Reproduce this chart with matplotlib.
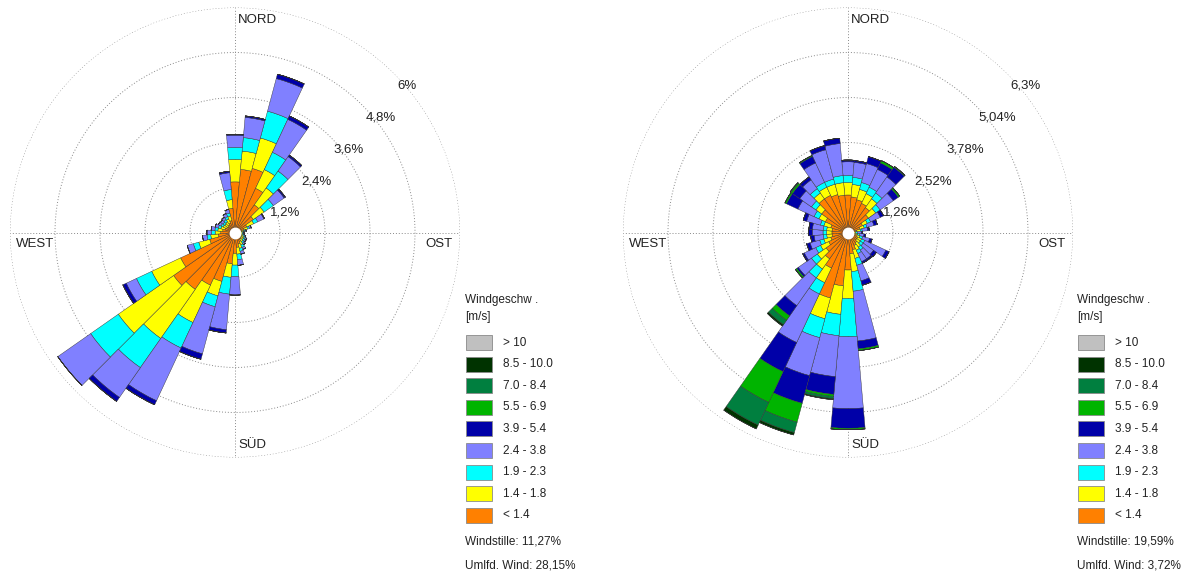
import numpy as np
import matplotlib.pyplot as plt
from matplotlib.patches import Rectangle

plt.rcParams['font.family'] = ['Liberation Sans', 'DejaVu Sans']

W, H = 1195, 574

# wind direction sectors (degrees, clockwise from north)
directions = np.arange(0, 360, 10)

classes = ['< 1.4', '1.4 - 1.8', '1.9 - 2.3', '2.4 - 3.8', '3.9 - 5.4',
           '5.5 - 6.9', '7.0 - 8.4', '8.5 - 10.0', '> 10']
class_colors = ['#ff8000', '#ffff00', '#00ffff', '#8080ff', '#0000a8',
                '#00b400', '#007f3f', '#003300', '#c0c0c0']

# ---- station 1: frequency per sector and speed class [%] ----
s1_lt14 = [1.35, 1.69, 1.77, 1.30, 0.90, 0.60, 0.35, 0.25, 0.18, 0.15, 0.15, 0.17,
           0.20, 0.20, 0.22, 0.27, 0.32, 0.40, 0.56, 0.84, 1.35, 1.55, 1.85, 2.00,
           1.60, 0.70, 0.45, 0.38, 0.33, 0.28, 0.25, 0.23, 0.25, 0.28, 0.33, 0.65]
s1_14_18 = [0.60, 0.49, 0.84, 0.55, 0.55, 0.35, 0.20, 0.10, 0.06, 0.05, 0.05, 0.06,
            0.07, 0.07, 0.08, 0.10, 0.12, 0.18, 0.31, 0.36, 0.40, 1.10, 1.60, 1.80,
            0.85, 0.30, 0.20, 0.15, 0.13, 0.11, 0.10, 0.10, 0.10, 0.12, 0.13, 0.23]
s1_19_23 = [0.32, 0.36, 0.74, 0.51, 0.55, 0.30, 0.12, 0.05, 0.03, 0.02, 0.03, 0.04,
            0.04, 0.05, 0.05, 0.07, 0.08, 0.15, 0.31, 0.45, 0.30, 0.75, 0.95, 0.90,
            0.45, 0.15, 0.10, 0.10, 0.08, 0.07, 0.06, 0.06, 0.07, 0.07, 0.08, 0.27]
s1_24_38 = [0.32, 0.54, 0.90, 0.97, 0.47, 0.35, 0.18, 0.05, 0.03, 0.02, 0.02, 0.03,
            0.04, 0.04, 0.05, 0.06, 0.08, 0.15, 0.49, 0.95, 1.30, 1.55, 0.97, 1.07,
            0.30, 0.17, 0.12, 0.12, 0.10, 0.09, 0.08, 0.08, 0.08, 0.09, 0.10, 0.45]
s1_39_54 = [0.03, 0.04, 0.12, 0.10, 0.05, 0.04, 0.02, 0.00, 0.00, 0.00, 0.00, 0.00,
            0.00, 0.00, 0.00, 0.00, 0.00, 0.00, 0.00, 0.09, 0.15, 0.12, 0.13, 0.00,
            0.10, 0.00, 0.00, 0.00, 0.00, 0.00, 0.00, 0.00, 0.00, 0.00, 0.00, 0.04]
s1_55_69 = [0.0] * 36
s1_70_84 = [0.0] * 36
s1_85_100 = [0.0] * 36
s1_gt10 = [0.0] * 36

# ---- station 2 ----
s2_lt14 = [1.05, 1.00, 0.95, 0.90, 0.85, 0.70, 0.45, 0.35, 0.25, 0.15, 0.20, 0.25,
           0.30, 0.30, 0.35, 0.40, 0.50, 0.60, 1.05, 1.50, 1.90, 1.10, 0.90, 0.75,
           0.60, 0.50, 0.45, 0.45, 0.45, 0.50, 0.70, 0.90, 1.15, 1.15, 1.10, 1.05]
s2_14_18 = [0.35, 0.35, 0.30, 0.30, 0.30, 0.25, 0.15, 0.12, 0.10, 0.07, 0.08, 0.10,
            0.12, 0.12, 0.15, 0.15, 0.25, 0.50, 0.80, 0.80, 0.60, 0.45, 0.35, 0.30,
            0.25, 0.20, 0.15, 0.15, 0.15, 0.20, 0.20, 0.20, 0.20, 0.25, 0.30, 0.35]
s2_19_23 = [0.20, 0.20, 0.20, 0.20, 0.20, 0.15, 0.10, 0.08, 0.05, 0.05, 0.05, 0.08,
            0.10, 0.10, 0.10, 0.10, 0.20, 0.55, 1.07, 0.60, 0.55, 0.35, 0.30, 0.20,
            0.15, 0.12, 0.10, 0.10, 0.10, 0.10, 0.15, 0.15, 0.15, 0.15, 0.15, 0.20]
s2_24_38 = [0.38, 0.42, 0.55, 0.55, 0.55, 0.45, 0.30, 0.20, 0.15, 0.10, 0.12, 0.20,
            0.65, 0.35, 0.30, 0.25, 0.45, 1.40, 2.01, 1.15, 1.10, 1.50, 0.95, 0.45,
            0.35, 0.28, 0.25, 0.30, 0.30, 0.40, 0.50, 0.40, 0.30, 0.60, 0.85, 0.90]
s2_39_54 = [0.05, 0.05, 0.20, 0.20, 0.33, 0.17, 0.10, 0.10, 0.05, 0.03, 0.05, 0.07,
            0.10, 0.10, 0.05, 0.05, 0.13, 0.22, 0.55, 0.50, 0.80, 0.90, 0.35, 0.05,
            0.05, 0.10, 0.10, 0.10, 0.10, 0.10, 0.35, 0.25, 0.10, 0.20, 0.12, 0.15]
s2_55_69 = [0.00, 0.00, 0.00, 0.07, 0.03, 0.05, 0.00, 0.00, 0.00, 0.00, 0.00, 0.00,
            0.00, 0.00, 0.00, 0.00, 0.00, 0.05, 0.04, 0.06, 0.55, 0.95, 0.15, 0.05,
            0.00, 0.00, 0.00, 0.00, 0.00, 0.00, 0.05, 0.05, 0.00, 0.03, 0.00, 0.00]
s2_70_84 = [0.00, 0.00, 0.00, 0.00, 0.00, 0.00, 0.00, 0.00, 0.00, 0.00, 0.00, 0.00,
            0.00, 0.00, 0.00, 0.00, 0.00, 0.00, 0.00, 0.06, 0.30, 0.70, 0.15, 0.00,
            0.00, 0.00, 0.00, 0.00, 0.00, 0.00, 0.00, 0.03, 0.00, 0.00, 0.00, 0.00]
s2_85_100 = [0.00, 0.00, 0.00, 0.00, 0.00, 0.00, 0.00, 0.00, 0.00, 0.00, 0.00, 0.00,
             0.00, 0.00, 0.00, 0.00, 0.00, 0.00, 0.00, 0.03, 0.07, 0.12, 0.05, 0.00,
             0.00, 0.00, 0.00, 0.00, 0.00, 0.00, 0.00, 0.00, 0.00, 0.00, 0.00, 0.00]
s2_gt10 = [0.0] * 36

s1_rings = [1.2, 2.4, 3.6, 4.8, 6.0]
s1_ring_labels = ['1,2%', '2,4%', '3,6%', '4,8%', '6%']
s2_rings = [1.26, 2.52, 3.78, 5.04, 6.3]
s2_ring_labels = ['1,26%', '2,52%', '3,78%', '5,04%', '6,3%']

s1_calm = 'Windstille: 11,27%'
s1_var = 'Umlfd. Wind: 28,15%'
s2_calm = 'Windstille: 19,59%'
s2_var = 'Umlfd. Wind: 3,72%'


def fx(x):
    return x / W


def fy(y):
    return 1 - y / H


def draw_rose(ax, series, rings, ring_labels):
    theta = np.deg2rad(directions)
    width = np.deg2rad(10)
    bottom = np.zeros(len(directions))
    for vals, col in zip(series, class_colors):
        vals = np.asarray(vals)
        ax.bar(theta, vals, width=width, bottom=bottom, color=col,
               edgecolor='#303030', linewidth=0.3, zorder=2)
        bottom = bottom + vals
    ax.set_theta_zero_location('N')
    ax.set_theta_direction(-1)
    ax.set_ylim(0, rings[-1])
    ax.set_rgrids(rings, labels=[''] * len(rings))
    ax.set_thetagrids([0, 90, 180, 270], labels=[''] * 4)
    ax.grid(True, color='#8a8a8a', linestyle=(0, (1, 2)), linewidth=0.7)
    ax.set_axisbelow(True)
    ax.spines['polar'].set_visible(False)
    ax.plot([0], [0], 'o', ms=7.5, mfc='white', mec='white', zorder=5)
    for r, lab in zip(rings, ring_labels):
        ax.annotate(lab, xy=(np.pi / 4, r), xytext=(2.2, -4.5),
                    textcoords='offset points', ha='left', va='top',
                    fontsize=9.5, color='#222222', zorder=6)
    kw = dict(transform=ax.transAxes, fontsize=9.5, color='#222222')
    ax.text(0.507, 0.986, 'NORD', ha='left', va='top', **kw)
    ax.text(0.507, 0.014, 'SÜD', ha='left', va='bottom', **kw)
    ax.text(0.013, 0.488, 'WEST', ha='left', va='top', **kw)
    ax.text(0.984, 0.488, 'OST', ha='right', va='top', **kw)


def draw_legend(fig, x0, calm, var):
    tk = dict(fontsize=8.5, color='#222222', va='center', ha='left')
    fig.text(fx(x0), fy(300), 'Windgeschw .', **tk)
    fig.text(fx(x0), fy(317), '[m/s]', **tk)
    for k, (lab, col) in enumerate(zip(classes[::-1], class_colors[::-1])):
        top = 335 + k * 21.6
        fig.patches.append(Rectangle((fx(x0 + 1), fy(top + 15)), 26 / W, 15 / H,
                                     transform=fig.transFigure, facecolor=col,
                                     edgecolor='#8a8a8a', linewidth=0.6))
        fig.text(fx(x0 + 38), fy(top + 7.5), lab, **tk)
    fig.text(fx(x0), fy(542), calm, **tk)
    fig.text(fx(x0), fy(565), var, **tk)


fig = plt.figure(figsize=(W / 100, H / 100), dpi=100)

ax1 = fig.add_axes([fx(10), fy(457.5), 450 / W, 450 / H], projection='polar')
draw_rose(ax1, [s1_lt14, s1_14_18, s1_19_23, s1_24_38, s1_39_54,
                s1_55_69, s1_70_84, s1_85_100, s1_gt10], s1_rings, s1_ring_labels)

ax2 = fig.add_axes([fx(623), fy(457.5), 450 / W, 450 / H], projection='polar')
draw_rose(ax2, [s2_lt14, s2_14_18, s2_19_23, s2_24_38, s2_39_54,
                s2_55_69, s2_70_84, s2_85_100, s2_gt10], s2_rings, s2_ring_labels)

draw_legend(fig, 465, s1_calm, s1_var)
draw_legend(fig, 1077, s2_calm, s2_var)

fig.savefig('out.png', dpi=100)
